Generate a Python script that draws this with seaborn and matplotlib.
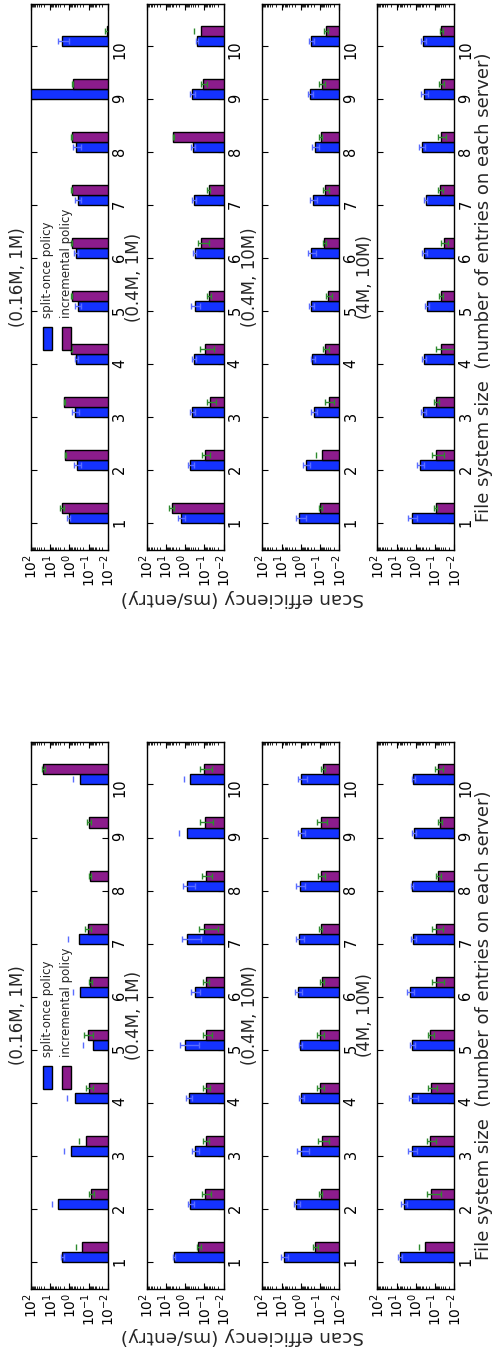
import numpy as np
import pandas as pd
import matplotlib
matplotlib.use("Agg")
import matplotlib.pyplot as plt
import seaborn as sns
from matplotlib.patches import Rectangle
from matplotlib.ticker import LogLocator, NullFormatter

# ---------------------------------------------------------------- data
sizes = [1, 2, 3, 4, 5, 6, 7, 8, 9, 10]
configs = ["(0.16M, 1M)", "(0.4M, 1M)", "(0.4M, 10M)", "(4M, 10M)"]
policies = ["split-once policy", "incremental policy"]

# upper block: scan efficiency (ms/entry), one row per configuration
top_split = [
    [1.1, 0.41, 0.52, 0.46, 0.38, 0.46, 0.38, 0.46, 150.0, 2.45],
    [1.64, 0.52, 0.44, 0.35, 0.31, 0.32, 0.35, 0.39, 0.44, 0.243],
    [1.2, 0.54, 0.215, 0.25, 0.30, 0.285, 0.24, 0.19, 0.33, 0.30],
    [1.64, 0.61, 0.42, 0.39, 0.27, 0.38, 0.31, 0.50, 0.38, 0.42],
]
top_split_err = [
    [0.19, 0.15, 0.19, 0.08, 0.14, 0.10, 0.12, 0.22, 0.0, 1.35],
    [0.6, 0.16, 0.12, 0.09, 0.15, 0.05, 0.09, 0.07, 0.12, 0.03],
    [0.66, 0.2, 0.065, 0.06, 0.09, 0.125, 0.09, 0.07, 0.10, 0.09],
    [0.81, 0.22, 0.14, 0.11, 0.06, 0.12, 0.06, 0.18, 0.14, 0.12],
]
top_incr = [
    [2.45, 1.71, 1.86, 0.83, 0.77, 0.77, 0.77, 0.77, 0.68, 0.011],
    [5.0, 0.093, 0.051, 0.097, 0.058, 0.139, 0.058, 3.98, 0.11, 0.139],
    [0.10, 0.083, 0.036, 0.053, 0.037, 0.063, 0.053, 0.093, 0.083, 0.051],
    [0.093, 0.093, 0.086, 0.049, 0.049, 0.036, 0.055, 0.049, 0.049, 0.049],
]
top_incr_err = [
    [0.55, 0.10, 0.10, 0.05, 0.04, 0.04, 0.04, 0.04, 0.04, 0.003],
    [1.4, 0.045, 0.025, 0.065, 0.012, 0.08, 0.01, 0.4, 0.04, 0.21],
    [0.018, 0.087, 0.017, 0.017, 0.014, 0.011, 0.017, 0.017, 0.027, 0.012],
    [0.017, 0.057, 0.024, 0.044, 0.011, 0.015, 0.015, 0.021, 0.014, 0.009],
]

# lower block
bottom_split = [
    [2.45, 4.1, 0.84, 0.50, 0.063, 0.27, 0.31, np.nan, np.nan, 0.27],
    [3.8, 0.52, 0.31, 0.63, 0.98, 0.31, 0.80, 0.80, 0.80, 0.52],
    [7.5, 1.71, 0.94, 0.98, 1.06, 1.46, 1.29, 1.15, 1.02, 0.94],
    [6.6, 4.3, 1.64, 1.52, 1.52, 2.1, 1.4, 1.64, 1.24, 1.4],
]
bottom_split_err = [
    [0.45, 4.4, 1.09, 0.8, 0.147, 0.41, 0.89, np.nan, np.nan, 0.41],
    [0.6, 0.16, 0.12, 0.21, 0.8, 0.15, 0.66, 0.49, 1.3, 0.58],
    [2.8, 0.55, 0.56, 0.26, 0.23, 0.64, 0.57, 0.55, 0.38, 0.46],
    [1.5, 1.6, 0.81, 0.74, 0.38, 0.8, 0.46, 0.22, 0.26, 0.26],
]
bottom_incr = [
    [0.23, 0.073, 0.139, 0.10, 0.114, 0.083, 0.114, 0.086, 0.10, 22.9],
    [0.2, 0.09, 0.083, 0.079, 0.079, 0.086, 0.105, 0.086, 0.097, 0.105],
    [0.18, 0.093, 0.083, 0.10, 0.10, 0.083, 0.093, 0.093, 0.093, 0.073],
    [0.35, 0.16, 0.18, 0.16, 0.18, 0.093, 0.09, 0.07, 0.056, 0.07],
]
bottom_incr_err = [
    [0.24, 0.02, 0.17, 0.04, 0.056, 0.017, 0.036, 0.014, 0.023, 5.0],
    [0.05, 0.045, 0.027, 0.031, 0.041, 0.028, 0.085, 0.044, 0.063, 0.065],
    [0.05, 0.017, 0.047, 0.04, 0.04, 0.017, 0.017, 0.037, 0.047, 0.02],
    [0.36, 0.11, 0.09, 0.08, 0.06, 0.057, 0.05, 0.023, 0.014, 0.03],
]

# ---------------------------------------------------------------- style
sns.set_style("ticks", {"axes.edgecolor": "black",
                        "xtick.direction": "in", "ytick.direction": "in",
                        "xtick.color": "black", "ytick.color": "black"})
plt.rcParams["font.family"] = ["DejaVu Sans"]
plt.rcParams["mathtext.fontset"] = "dejavusans"

BLUE = "#1432ff"
PURPLE = "#8c1c8c"
BLUE_ERR = "#5a6cff"
GREEN_ERR = "#2e8b2e"
BAR_W = 0.19

W_PX, H_PX = 492, 1353
fig = plt.figure(figsize=(W_PX / 100, H_PX / 100), dpi=100)

col_left_px = [31, 146.5, 262.3, 377.3]
ax_w_px = 77


def draw_block(top_px, bottom_px, split, split_err, incr, incr_err,
               xlabel_center_px, ylabel_px):
    pos = np.asarray(sizes, float)
    for k, cfg in enumerate(configs):
        rect = [col_left_px[k] / W_PX, 1 - bottom_px / H_PX,
                ax_w_px / W_PX, (bottom_px - top_px) / H_PX]
        ax = fig.add_axes(rect)
        df = pd.DataFrame({
            "pos": np.concatenate([pos + BAR_W, pos + BAR_W]),
            "policy": np.repeat(policies, len(sizes)),
            "value": np.concatenate([np.asarray(split[k], float),
                                     np.asarray(incr[k], float)]),
        })
        sns.barplot(data=df, x="value", y="pos", hue="policy",
                    hue_order=policies, palette=[BLUE, PURPLE],
                    orient="h", native_scale=True,
                    width=2 * BAR_W, errorbar=None, legend=False,
                    edgecolor="black", linewidth=1.0, saturation=1, ax=ax)
        ax.set_xscale("log")

        # error bars; on the log axis a lower bound <= 0 is left out
        for vals, errs, off, col in (
                (split[k], split_err[k], BAR_W / 2, BLUE_ERR),
                (incr[k], incr_err[k], 1.5 * BAR_W, GREEN_ERR)):
            v = np.asarray(vals, float)
            e = np.asarray(errs, float)
            lo = np.where(v - e > 0, e, np.nan)
            ax.errorbar(v, pos + off, xerr=[lo, e], fmt="none", ecolor=col,
                        elinewidth=1.0, capsize=2, capthick=1.0, zorder=4)

        ax.set_xlim(1e2, 1e-2)
        ax.set_ylim(0.5, 10.8)
        ax.set_yticks(sizes)
        ax.set_yticklabels([str(s) for s in sizes])
        ax.xaxis.set_major_locator(LogLocator(base=10, numticks=10))
        ax.xaxis.set_minor_locator(LogLocator(base=10, subs=np.arange(2, 10),
                                              numticks=10))
        ax.xaxis.set_minor_formatter(NullFormatter())
        ax.tick_params(axis="x", which="both", direction="in", top=True,
                       bottom=True, labelbottom=True, labelrotation=90,
                       labelsize=10, pad=3)
        ax.tick_params(axis="x", which="major", length=4, width=0.8)
        ax.tick_params(axis="x", which="minor", length=2, width=0.6)
        ax.tick_params(axis="y", direction="in", left=True, right=True,
                       labelleft=False, labelright=True, labelrotation=90,
                       length=4, width=0.8, labelsize=10.5, pad=3)
        ax.set_xlabel("")
        ax.set_ylabel("")
        for sp in ax.spines.values():
            sp.set_linewidth(1.0)
            sp.set_color("black")

        ax.text(-0.046, 0.5, cfg, transform=ax.transAxes, rotation=90,
                ha="right", va="center", fontsize=12)

        if k == 0:
            for i, (pol, col) in enumerate(zip(policies, [BLUE, PURPLE])):
                x0 = 0.155 + i * 0.245
                ax.add_patch(Rectangle((x0, 0.366), 0.117, 0.042,
                                       transform=ax.transAxes, facecolor=col,
                                       edgecolor="black", lw=1.0,
                                       clip_on=False, zorder=6))
                ax.text(x0 + 0.0585, 0.425, pol, transform=ax.transAxes,
                        rotation=90, ha="center", va="bottom", fontsize=8.5,
                        zorder=6)

    fig.text(484 / W_PX, 1 - xlabel_center_px / H_PX,
             "File system size  (number of entries on each server)",
             rotation=90, ha="center", va="center", fontsize=13)
    fig.text(242 / W_PX, 1 - ylabel_px / H_PX, "Scan efficiency (ms/entry)",
             rotation=180, ha="center", va="center", fontsize=13.3)


draw_block(4, 550, top_split, top_split_err, top_incr, top_incr_err, 287, 598)
draw_block(742, 1289, bottom_split, bottom_split_err, bottom_incr,
           bottom_incr_err, 1025, 1336)

fig.savefig("out.png", dpi=100, facecolor="white")
